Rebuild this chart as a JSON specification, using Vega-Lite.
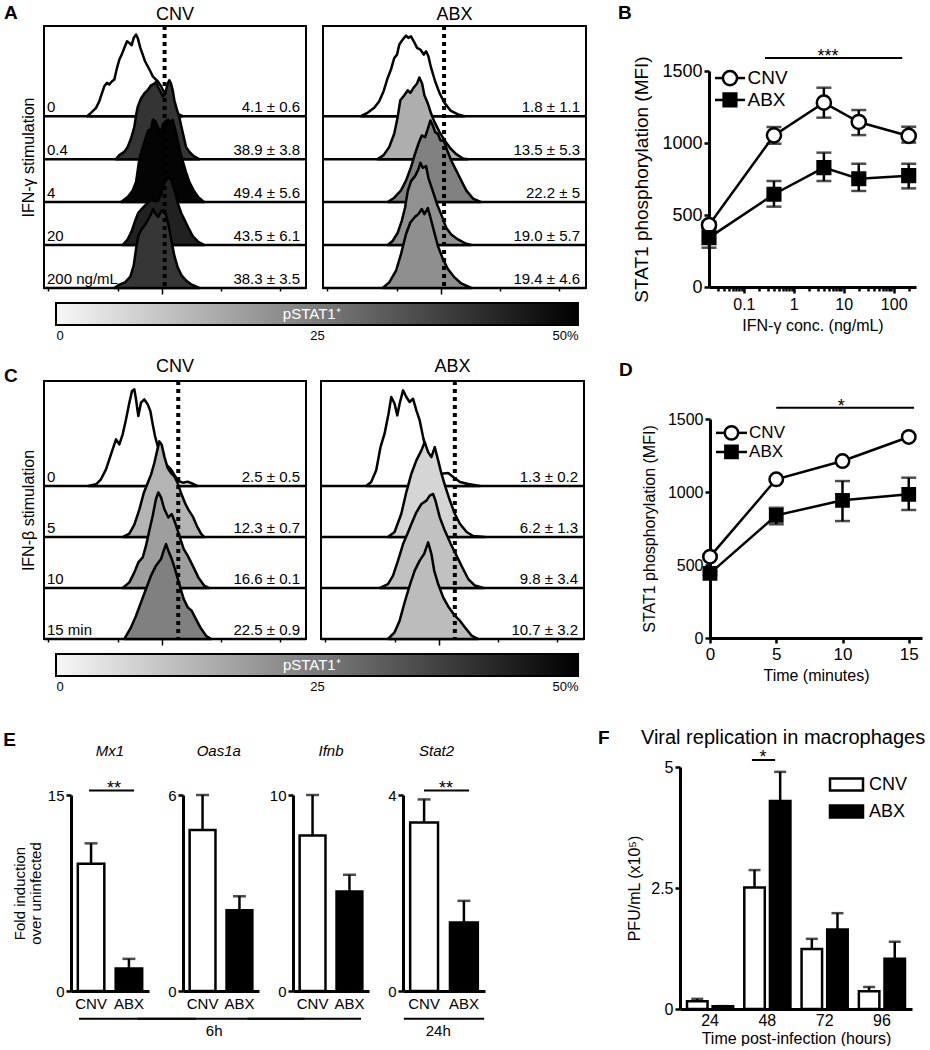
{
"$schema":"https://vega.github.io/schema/vega-lite/v6.json",
"background":"white",
"padding":{"left":3,"top":3,"right":5,"bottom":0},
"config":{
 "font":"Liberation Sans",
 "view":{"stroke":null},
 "axis":{"domainColor":"#000","domainWidth":3,"tickColor":"#000","tickWidth":2.5,"tickSize":5,"labelColor":"#000","titleColor":"#000","titleFontWeight":"normal","grid":false,"labelFlush":false,"labelOverlap":false,"labelFontSize":16,"titleFontSize":16},
 "title":{"color":"#000","fontWeight":"normal"},
 "text":{"color":"#000"},
 "legend":{"labelColor":"#000"}
},
"datasets":{
"hlab":[
{"k":"AC|0","p":"AC","r":0,"lab":"0","stat":"4.1 ± 0.6","pct":4.1},
{"k":"AC|1","p":"AC","r":1,"lab":"0.4","stat":"38.9 ± 3.8","pct":38.9},
{"k":"AC|2","p":"AC","r":2,"lab":"4","stat":"49.4 ± 5.6","pct":49.4},
{"k":"AC|3","p":"AC","r":3,"lab":"20","stat":"43.5 ± 6.1","pct":43.5},
{"k":"AC|4","p":"AC","r":4,"lab":"200 ng/mL","stat":"38.3 ± 3.5","pct":38.3},
{"k":"AA|0","p":"AA","r":0,"lab":"","stat":"1.8 ± 1.1","pct":1.8},
{"k":"AA|1","p":"AA","r":1,"lab":"","stat":"13.5 ± 5.3","pct":13.5},
{"k":"AA|2","p":"AA","r":2,"lab":"","stat":"22.2 ± 5","pct":22.2},
{"k":"AA|3","p":"AA","r":3,"lab":"","stat":"19.0 ± 5.7","pct":19.0},
{"k":"AA|4","p":"AA","r":4,"lab":"","stat":"19.4 ± 4.6","pct":19.4},
{"k":"CC|0","p":"CC","r":0,"lab":"0","stat":"2.5 ± 0.5","pct":2.5},
{"k":"CC|1","p":"CC","r":1,"lab":"5","stat":"12.3 ± 0.7","pct":12.3},
{"k":"CC|2","p":"CC","r":2,"lab":"10","stat":"16.6 ± 0.1","pct":16.6},
{"k":"CC|3","p":"CC","r":3,"lab":"15 min","stat":"22.5 ± 0.9","pct":22.5},
{"k":"CA|0","p":"CA","r":0,"lab":"","stat":"1.3 ± 0.2","pct":1.3},
{"k":"CA|1","p":"CA","r":1,"lab":"","stat":"6.2 ± 1.3","pct":6.2},
{"k":"CA|2","p":"CA","r":2,"lab":"","stat":"9.8 ± 3.4","pct":9.8},
{"k":"CA|3","p":"CA","r":3,"lab":"","stat":"10.7 ± 3.2","pct":10.7}
],
"gates":[{"p":"AC","g":3.05},{"p":"AA","g":3.05},{"p":"CC","g":3.27},{"p":"CA","g":3.255}],
"cbar":[{"lo":0,"hi":50,"name":"pSTAT1⁺"}],
"ifng":[
{"grp":"CNV","conc":0.02,"mfi":430,"lo":405,"hi":455},
{"grp":"CNV","conc":0.4,"mfi":1053,"lo":995,"hi":1111},
{"grp":"CNV","conc":4,"mfi":1280,"lo":1176,"hi":1384},
{"grp":"CNV","conc":20,"mfi":1146,"lo":1055,"hi":1229},
{"grp":"CNV","conc":200,"mfi":1049,"lo":1003,"hi":1113},
{"grp":"ABX","conc":0.02,"mfi":343,"lo":273,"hi":413},
{"grp":"ABX","conc":0.4,"mfi":644,"lo":558,"hi":736},
{"grp":"ABX","conc":4,"mfi":829,"lo":736,"hi":933},
{"grp":"ABX","conc":20,"mfi":752,"lo":667,"hi":856},
{"grp":"ABX","conc":200,"mfi":773,"lo":685,"hi":856}
],
"ifnb":[
{"grp":"CNV","min":0,"mfi":557,"lo":545,"hi":569},
{"grp":"CNV","min":5,"mfi":1087,"lo":1075,"hi":1099},
{"grp":"CNV","min":10,"mfi":1212,"lo":1200,"hi":1224},
{"grp":"CNV","min":15,"mfi":1377,"lo":1365,"hi":1389},
{"grp":"ABX","min":0,"mfi":443,"lo":430,"hi":456},
{"grp":"ABX","min":5,"mfi":840,"lo":779,"hi":892},
{"grp":"ABX","min":10,"mfi":943,"lo":801,"hi":1075},
{"grp":"ABX","min":15,"mfi":984,"lo":877,"hi":1098}
],
"genes":[
{"gene":"Mx1","grp":"CNV","val":9.73,"hi":11.3},
{"gene":"Mx1","grp":"ABX","val":1.72,"hi":2.46},
{"gene":"Oas1a","grp":"CNV","val":4.93,"hi":6.0},
{"gene":"Oas1a","grp":"ABX","val":2.47,"hi":2.9},
{"gene":"Ifnb","grp":"CNV","val":7.93,"hi":10.0},
{"gene":"Ifnb","grp":"ABX","val":5.08,"hi":5.93},
{"gene":"Stat2","grp":"CNV","val":3.44,"hi":3.91},
{"gene":"Stat2","grp":"ABX","val":1.4,"hi":1.84}
],
"viral":[
{"t":24,"grp":"CNV","val":0.16,"hi":0.21},
{"t":24,"grp":"ABX","val":0.055,"hi":0.06},
{"t":48,"grp":"CNV","val":2.51,"hi":2.87},
{"t":48,"grp":"ABX","val":4.3,"hi":4.9},
{"t":72,"grp":"CNV","val":1.24,"hi":1.45},
{"t":72,"grp":"ABX","val":1.64,"hi":1.98},
{"t":96,"grp":"CNV","val":0.365,"hi":0.455},
{"t":96,"grp":"ABX","val":1.04,"hi":1.39}
],
"hist":[
{"p":"AC","r":0,"x":1.8,"h":0},{"p":"AC","r":0,"x":1.863,"h":3.9},{"p":"AC","r":0,"x":1.944,"h":9.7},{"p":"AC","r":0,"x":1.997,"h":17.4},{"p":"AC","r":0,"x":2.024,"h":23.3},{"p":"AC","r":0,"x":2.078,"h":34.9},{"p":"AC","r":0,"x":2.121,"h":38.8},{"p":"AC","r":0,"x":2.158,"h":36.8},{"p":"AC","r":0,"x":2.202,"h":40.7},{"p":"AC","r":0,"x":2.239,"h":42.6},{"p":"AC","r":0,"x":2.282,"h":56.2},{"p":"AC","r":0,"x":2.32,"h":65.9},{"p":"AC","r":0,"x":2.358,"h":71.7},{"p":"AC","r":0,"x":2.4,"h":79.5},{"p":"AC","r":0,"x":2.444,"h":87.2},{"p":"AC","r":0,"x":2.481,"h":85.3},{"p":"AC","r":0,"x":2.519,"h":82.6},{"p":"AC","r":0,"x":2.551,"h":91.1},{"p":"AC","r":0,"x":2.589,"h":95},{"p":"AC","r":0,"x":2.616,"h":91.1},{"p":"AC","r":0,"x":2.658,"h":79.5},{"p":"AC","r":0,"x":2.697,"h":71.7},{"p":"AC","r":0,"x":2.734,"h":64},{"p":"AC","r":0,"x":2.777,"h":58.1},{"p":"AC","r":0,"x":2.82,"h":52.3},{"p":"AC","r":0,"x":2.858,"h":46.5},{"p":"AC","r":0,"x":2.895,"h":43.8},{"p":"AC","r":0,"x":2.939,"h":40.7},{"p":"AC","r":0,"x":2.992,"h":34.9},{"p":"AC","r":0,"x":3.045,"h":27.1},{"p":"AC","r":0,"x":3.1,"h":21.3},{"p":"AC","r":0,"x":3.181,"h":9.7},{"p":"AC","r":0,"x":3.261,"h":2.7},{"p":"AC","r":0,"x":3.342,"h":0},
{"p":"AC","r":1,"x":2.266,"h":0},{"p":"AC","r":1,"x":2.32,"h":4.7},{"p":"AC","r":1,"x":2.4,"h":8.5},{"p":"AC","r":1,"x":2.455,"h":14.3},{"p":"AC","r":1,"x":2.508,"h":24},{"p":"AC","r":1,"x":2.562,"h":37.6},{"p":"AC","r":1,"x":2.589,"h":51.2},{"p":"AC","r":1,"x":2.616,"h":60.8},{"p":"AC","r":1,"x":2.669,"h":70.6},{"p":"AC","r":1,"x":2.723,"h":76.4},{"p":"AC","r":1,"x":2.777,"h":80.2},{"p":"AC","r":1,"x":2.831,"h":86},{"p":"AC","r":1,"x":2.884,"h":88},{"p":"AC","r":1,"x":2.911,"h":89.9},{"p":"AC","r":1,"x":2.939,"h":84.9},{"p":"AC","r":1,"x":2.981,"h":79.4},{"p":"AC","r":1,"x":3.019,"h":73.3},{"p":"AC","r":1,"x":3.057,"h":75.6},{"p":"AC","r":1,"x":3.1,"h":88},{"p":"AC","r":1,"x":3.126,"h":91.9},{"p":"AC","r":1,"x":3.153,"h":88},{"p":"AC","r":1,"x":3.181,"h":80.2},{"p":"AC","r":1,"x":3.207,"h":68.6},{"p":"AC","r":1,"x":3.25,"h":57},{"p":"AC","r":1,"x":3.287,"h":49.2},{"p":"AC","r":1,"x":3.315,"h":39.5},{"p":"AC","r":1,"x":3.358,"h":26},{"p":"AC","r":1,"x":3.395,"h":14.3},{"p":"AC","r":1,"x":3.449,"h":8.5},{"p":"AC","r":1,"x":3.519,"h":3.5},{"p":"AC","r":1,"x":3.61,"h":0},
{"p":"AC","r":2,"x":2.347,"h":0},{"p":"AC","r":2,"x":2.455,"h":5.8},{"p":"AC","r":2,"x":2.536,"h":13.6},{"p":"AC","r":2,"x":2.589,"h":23.3},{"p":"AC","r":2,"x":2.642,"h":49.6},{"p":"AC","r":2,"x":2.697,"h":64},{"p":"AC","r":2,"x":2.75,"h":75.6},{"p":"AC","r":2,"x":2.787,"h":83.4},{"p":"AC","r":2,"x":2.831,"h":85.3},{"p":"AC","r":2,"x":2.863,"h":95.8},{"p":"AC","r":2,"x":2.9,"h":94.2},{"p":"AC","r":2,"x":2.939,"h":88},{"p":"AC","r":2,"x":2.981,"h":80.2},{"p":"AC","r":2,"x":3.024,"h":90.3},{"p":"AC","r":2,"x":3.068,"h":94.2},{"p":"AC","r":2,"x":3.11,"h":95.8},{"p":"AC","r":2,"x":3.142,"h":93},{"p":"AC","r":2,"x":3.181,"h":95.8},{"p":"AC","r":2,"x":3.218,"h":85.3},{"p":"AC","r":2,"x":3.261,"h":71.7},{"p":"AC","r":2,"x":3.303,"h":58.1},{"p":"AC","r":2,"x":3.347,"h":46.5},{"p":"AC","r":2,"x":3.395,"h":34.9},{"p":"AC","r":2,"x":3.449,"h":23.3},{"p":"AC","r":2,"x":3.519,"h":13.6},{"p":"AC","r":2,"x":3.594,"h":5.8},{"p":"AC","r":2,"x":3.69,"h":0},
{"p":"AC","r":3,"x":2.374,"h":0},{"p":"AC","r":3,"x":2.455,"h":6.6},{"p":"AC","r":3,"x":2.519,"h":16.3},{"p":"AC","r":3,"x":2.573,"h":27.9},{"p":"AC","r":3,"x":2.626,"h":37.6},{"p":"AC","r":3,"x":2.697,"h":43.4},{"p":"AC","r":3,"x":2.777,"h":49.2},{"p":"AC","r":3,"x":2.842,"h":53.1},{"p":"AC","r":3,"x":2.884,"h":51.2},{"p":"AC","r":3,"x":2.939,"h":51.2},{"p":"AC","r":3,"x":2.992,"h":59},{"p":"AC","r":3,"x":3.045,"h":72.4},{"p":"AC","r":3,"x":3.1,"h":78.3},{"p":"AC","r":3,"x":3.153,"h":76.4},{"p":"AC","r":3,"x":3.207,"h":64.8},{"p":"AC","r":3,"x":3.261,"h":49.2},{"p":"AC","r":3,"x":3.315,"h":37.6},{"p":"AC","r":3,"x":3.368,"h":29.9},{"p":"AC","r":3,"x":3.433,"h":20.1},{"p":"AC","r":3,"x":3.503,"h":10.5},{"p":"AC","r":3,"x":3.594,"h":3.8},{"p":"AC","r":3,"x":3.69,"h":0},
{"p":"AC","r":4,"x":2.239,"h":0},{"p":"AC","r":4,"x":2.32,"h":3.9},{"p":"AC","r":4,"x":2.411,"h":6.6},{"p":"AC","r":4,"x":2.497,"h":13.2},{"p":"AC","r":4,"x":2.551,"h":26},{"p":"AC","r":4,"x":2.589,"h":45.3},{"p":"AC","r":4,"x":2.626,"h":60.8},{"p":"AC","r":4,"x":2.681,"h":68.6},{"p":"AC","r":4,"x":2.734,"h":73.6},{"p":"AC","r":4,"x":2.787,"h":80.2},{"p":"AC","r":4,"x":2.831,"h":86},{"p":"AC","r":4,"x":2.863,"h":91.9},{"p":"AC","r":4,"x":2.9,"h":86.7},{"p":"AC","r":4,"x":2.948,"h":82.9},{"p":"AC","r":4,"x":2.992,"h":89.1},{"p":"AC","r":4,"x":3.035,"h":90.7},{"p":"AC","r":4,"x":3.078,"h":84.1},{"p":"AC","r":4,"x":3.121,"h":70.5},{"p":"AC","r":4,"x":3.165,"h":53},{"p":"AC","r":4,"x":3.207,"h":37.6},{"p":"AC","r":4,"x":3.261,"h":24},{"p":"AC","r":4,"x":3.326,"h":14.3},{"p":"AC","r":4,"x":3.4,"h":8.5},{"p":"AC","r":4,"x":3.487,"h":3.9},{"p":"AC","r":4,"x":3.61,"h":0},
{"p":"AA","r":0,"x":1.713,"h":0},{"p":"AA","r":0,"x":1.821,"h":3.9},{"p":"AA","r":0,"x":1.928,"h":9.7},{"p":"AA","r":0,"x":2.008,"h":17.4},{"p":"AA","r":0,"x":2.079,"h":29.1},{"p":"AA","r":0,"x":2.144,"h":44.5},{"p":"AA","r":0,"x":2.197,"h":54.3},{"p":"AA","r":0,"x":2.25,"h":67.8},{"p":"AA","r":0,"x":2.294,"h":71.7},{"p":"AA","r":0,"x":2.331,"h":83.4},{"p":"AA","r":0,"x":2.386,"h":89.2},{"p":"AA","r":0,"x":2.439,"h":93.8},{"p":"AA","r":0,"x":2.476,"h":91.1},{"p":"AA","r":0,"x":2.519,"h":93},{"p":"AA","r":0,"x":2.563,"h":87.2},{"p":"AA","r":0,"x":2.616,"h":79.5},{"p":"AA","r":0,"x":2.669,"h":77.6},{"p":"AA","r":0,"x":2.724,"h":71.7},{"p":"AA","r":0,"x":2.761,"h":75.6},{"p":"AA","r":0,"x":2.798,"h":69.8},{"p":"AA","r":0,"x":2.842,"h":56.2},{"p":"AA","r":0,"x":2.906,"h":40.7},{"p":"AA","r":0,"x":2.976,"h":27.1},{"p":"AA","r":0,"x":3.057,"h":15.5},{"p":"AA","r":0,"x":3.153,"h":6.6},{"p":"AA","r":0,"x":3.273,"h":2},{"p":"AA","r":0,"x":3.379,"h":0},
{"p":"AA","r":1,"x":1.982,"h":0},{"p":"AA","r":1,"x":2.079,"h":4.7},{"p":"AA","r":1,"x":2.17,"h":14.3},{"p":"AA","r":1,"x":2.25,"h":29.9},{"p":"AA","r":1,"x":2.305,"h":49.2},{"p":"AA","r":1,"x":2.347,"h":68.6},{"p":"AA","r":1,"x":2.411,"h":74.4},{"p":"AA","r":1,"x":2.466,"h":80.2},{"p":"AA","r":1,"x":2.508,"h":77.1},{"p":"AA","r":1,"x":2.563,"h":83.4},{"p":"AA","r":1,"x":2.616,"h":88},{"p":"AA","r":1,"x":2.653,"h":95},{"p":"AA","r":1,"x":2.697,"h":88},{"p":"AA","r":1,"x":2.734,"h":74.4},{"p":"AA","r":1,"x":2.789,"h":64.8},{"p":"AA","r":1,"x":2.842,"h":53.1},{"p":"AA","r":1,"x":2.895,"h":43.4},{"p":"AA","r":1,"x":2.976,"h":31.7},{"p":"AA","r":1,"x":3.057,"h":22.1},{"p":"AA","r":1,"x":3.153,"h":12.4},{"p":"AA","r":1,"x":3.245,"h":5.8},{"p":"AA","r":1,"x":3.353,"h":0.8},{"p":"AA","r":1,"x":3.434,"h":0},
{"p":"AA","r":2,"x":2.144,"h":0},{"p":"AA","r":2,"x":2.25,"h":5.1},{"p":"AA","r":2,"x":2.358,"h":13.6},{"p":"AA","r":2,"x":2.439,"h":25.2},{"p":"AA","r":2,"x":2.519,"h":40.7},{"p":"AA","r":2,"x":2.584,"h":56.3},{"p":"AA","r":2,"x":2.637,"h":67.9},{"p":"AA","r":2,"x":2.692,"h":77.6},{"p":"AA","r":2,"x":2.745,"h":75.6},{"p":"AA","r":2,"x":2.789,"h":85.3},{"p":"AA","r":2,"x":2.831,"h":95},{"p":"AA","r":2,"x":2.869,"h":89.2},{"p":"AA","r":2,"x":2.906,"h":81.4},{"p":"AA","r":2,"x":2.95,"h":79.5},{"p":"AA","r":2,"x":2.992,"h":71.7},{"p":"AA","r":2,"x":3.047,"h":71.7},{"p":"AA","r":2,"x":3.1,"h":60.1},{"p":"AA","r":2,"x":3.165,"h":48.5},{"p":"AA","r":2,"x":3.245,"h":36.9},{"p":"AA","r":2,"x":3.326,"h":25.2},{"p":"AA","r":2,"x":3.406,"h":13.6},{"p":"AA","r":2,"x":3.515,"h":4},{"p":"AA","r":2,"x":3.648,"h":0},
{"p":"AA","r":3,"x":2.144,"h":0},{"p":"AA","r":3,"x":2.224,"h":4.7},{"p":"AA","r":3,"x":2.305,"h":14.3},{"p":"AA","r":3,"x":2.369,"h":27.9},{"p":"AA","r":3,"x":2.423,"h":43.4},{"p":"AA","r":3,"x":2.466,"h":62.8},{"p":"AA","r":3,"x":2.519,"h":74.4},{"p":"AA","r":3,"x":2.584,"h":80.2},{"p":"AA","r":3,"x":2.637,"h":88},{"p":"AA","r":3,"x":2.669,"h":95.7},{"p":"AA","r":3,"x":2.708,"h":89.9},{"p":"AA","r":3,"x":2.761,"h":91.9},{"p":"AA","r":3,"x":2.798,"h":78.3},{"p":"AA","r":3,"x":2.869,"h":62.8},{"p":"AA","r":3,"x":2.939,"h":47.3},{"p":"AA","r":3,"x":3.015,"h":33.7},{"p":"AA","r":3,"x":3.084,"h":20.1},{"p":"AA","r":3,"x":3.165,"h":12.4},{"p":"AA","r":3,"x":3.273,"h":6.6},{"p":"AA","r":3,"x":3.406,"h":1.5},{"p":"AA","r":3,"x":3.487,"h":0},
{"p":"AA","r":4,"x":2.063,"h":0},{"p":"AA","r":4,"x":2.17,"h":6.5},{"p":"AA","r":4,"x":2.278,"h":20.1},{"p":"AA","r":4,"x":2.358,"h":39.5},{"p":"AA","r":4,"x":2.439,"h":62.8},{"p":"AA","r":4,"x":2.508,"h":76.3},{"p":"AA","r":4,"x":2.584,"h":82.9},{"p":"AA","r":4,"x":2.637,"h":86},{"p":"AA","r":4,"x":2.692,"h":91.9},{"p":"AA","r":4,"x":2.734,"h":86},{"p":"AA","r":4,"x":2.789,"h":93},{"p":"AA","r":4,"x":2.831,"h":82.1},{"p":"AA","r":4,"x":2.886,"h":66.6},{"p":"AA","r":4,"x":2.95,"h":49.2},{"p":"AA","r":4,"x":3.031,"h":33.7},{"p":"AA","r":4,"x":3.111,"h":22.1},{"p":"AA","r":4,"x":3.218,"h":12.3},{"p":"AA","r":4,"x":3.326,"h":5.3},{"p":"AA","r":4,"x":3.487,"h":0},
{"p":"CC","r":0,"x":1.82,"h":0},{"p":"CC","r":0,"x":1.944,"h":1.7},{"p":"CC","r":0,"x":2.024,"h":6.6},{"p":"CC","r":0,"x":2.105,"h":16.3},{"p":"CC","r":0,"x":2.185,"h":31},{"p":"CC","r":0,"x":2.266,"h":45.8},{"p":"CC","r":0,"x":2.32,"h":40.8},{"p":"CC","r":0,"x":2.374,"h":50.7},{"p":"CC","r":0,"x":2.427,"h":65.3},{"p":"CC","r":0,"x":2.481,"h":81.7},{"p":"CC","r":0,"x":2.524,"h":93.1},{"p":"CC","r":0,"x":2.562,"h":94.8},{"p":"CC","r":0,"x":2.589,"h":85},{"p":"CC","r":0,"x":2.626,"h":68.6},{"p":"CC","r":0,"x":2.669,"h":81.7},{"p":"CC","r":0,"x":2.723,"h":85},{"p":"CC","r":0,"x":2.777,"h":80.1},{"p":"CC","r":0,"x":2.82,"h":73.5},{"p":"CC","r":0,"x":2.858,"h":60.5},{"p":"CC","r":0,"x":2.895,"h":49},{"p":"CC","r":0,"x":2.939,"h":39.2},{"p":"CC","r":0,"x":2.992,"h":29.4},{"p":"CC","r":0,"x":3.073,"h":21.3},{"p":"CC","r":0,"x":3.153,"h":16.3},{"p":"CC","r":0,"x":3.218,"h":9.8},{"p":"CC","r":0,"x":3.271,"h":4.9},{"p":"CC","r":0,"x":3.342,"h":3.3},{"p":"CC","r":0,"x":3.423,"h":4.2},{"p":"CC","r":0,"x":3.503,"h":2.3},{"p":"CC","r":0,"x":3.584,"h":0},
{"p":"CC","r":1,"x":2.374,"h":0},{"p":"CC","r":1,"x":2.481,"h":3.3},{"p":"CC","r":1,"x":2.562,"h":12.2},{"p":"CC","r":1,"x":2.642,"h":26.9},{"p":"CC","r":1,"x":2.713,"h":43.1},{"p":"CC","r":1,"x":2.777,"h":52.9},{"p":"CC","r":1,"x":2.831,"h":61.2},{"p":"CC","r":1,"x":2.884,"h":72.5},{"p":"CC","r":1,"x":2.927,"h":84},{"p":"CC","r":1,"x":2.965,"h":93.8},{"p":"CC","r":1,"x":3.003,"h":90.6},{"p":"CC","r":1,"x":3.045,"h":79.1},{"p":"CC","r":1,"x":3.1,"h":67.6},{"p":"CC","r":1,"x":3.153,"h":62.7},{"p":"CC","r":1,"x":3.207,"h":59.5},{"p":"CC","r":1,"x":3.261,"h":52.9},{"p":"CC","r":1,"x":3.315,"h":43.1},{"p":"CC","r":1,"x":3.379,"h":33.3},{"p":"CC","r":1,"x":3.433,"h":26.9},{"p":"CC","r":1,"x":3.503,"h":20.3},{"p":"CC","r":1,"x":3.573,"h":10.5},{"p":"CC","r":1,"x":3.637,"h":3.3},{"p":"CC","r":1,"x":3.69,"h":0},
{"p":"CC","r":2,"x":2.374,"h":0},{"p":"CC","r":2,"x":2.481,"h":5.5},{"p":"CC","r":2,"x":2.562,"h":15.3},{"p":"CC","r":2,"x":2.626,"h":25.1},{"p":"CC","r":2,"x":2.697,"h":30},{"p":"CC","r":2,"x":2.75,"h":41.5},{"p":"CC","r":2,"x":2.803,"h":56.2},{"p":"CC","r":2,"x":2.858,"h":70.9},{"p":"CC","r":2,"x":2.911,"h":87.3},{"p":"CC","r":2,"x":2.948,"h":93.7},{"p":"CC","r":2,"x":2.992,"h":88.8},{"p":"CC","r":2,"x":3.045,"h":77.5},{"p":"CC","r":2,"x":3.11,"h":69.2},{"p":"CC","r":2,"x":3.165,"h":72.5},{"p":"CC","r":2,"x":3.218,"h":64.3},{"p":"CC","r":2,"x":3.287,"h":51.3},{"p":"CC","r":2,"x":3.358,"h":38.2},{"p":"CC","r":2,"x":3.423,"h":31.7},{"p":"CC","r":2,"x":3.503,"h":21.9},{"p":"CC","r":2,"x":3.594,"h":10.4},{"p":"CC","r":2,"x":3.69,"h":2.3},{"p":"CC","r":2,"x":3.771,"h":0},
{"p":"CC","r":3,"x":2.4,"h":0},{"p":"CC","r":3,"x":2.508,"h":11.4},{"p":"CC","r":3,"x":2.589,"h":22.8},{"p":"CC","r":3,"x":2.669,"h":35.9},{"p":"CC","r":3,"x":2.75,"h":49},{"p":"CC","r":3,"x":2.831,"h":62.1},{"p":"CC","r":3,"x":2.911,"h":71.9},{"p":"CC","r":3,"x":2.992,"h":78.4},{"p":"CC","r":3,"x":3.035,"h":86.6},{"p":"CC","r":3,"x":3.073,"h":93.1},{"p":"CC","r":3,"x":3.11,"h":86.6},{"p":"CC","r":3,"x":3.165,"h":78.4},{"p":"CC","r":3,"x":3.218,"h":68.6},{"p":"CC","r":3,"x":3.287,"h":53.9},{"p":"CC","r":3,"x":3.358,"h":39.2},{"p":"CC","r":3,"x":3.423,"h":31},{"p":"CC","r":3,"x":3.487,"h":27.7},{"p":"CC","r":3,"x":3.541,"h":21.2},{"p":"CC","r":3,"x":3.626,"h":11.4},{"p":"CC","r":3,"x":3.718,"h":3.2},{"p":"CC","r":3,"x":3.798,"h":0},
{"p":"CA","r":0,"x":1.831,"h":0},{"p":"CA","r":0,"x":1.911,"h":3.9},{"p":"CA","r":0,"x":1.992,"h":15.4},{"p":"CA","r":0,"x":2.061,"h":38.2},{"p":"CA","r":0,"x":2.126,"h":51.3},{"p":"CA","r":0,"x":2.19,"h":70.9},{"p":"CA","r":0,"x":2.234,"h":87.3},{"p":"CA","r":0,"x":2.287,"h":80.7},{"p":"CA","r":0,"x":2.331,"h":69.3},{"p":"CA","r":0,"x":2.368,"h":80.7},{"p":"CA","r":0,"x":2.423,"h":93.8},{"p":"CA","r":0,"x":2.476,"h":87.3},{"p":"CA","r":0,"x":2.529,"h":82.4},{"p":"CA","r":0,"x":2.584,"h":85.6},{"p":"CA","r":0,"x":2.637,"h":74.2},{"p":"CA","r":0,"x":2.69,"h":64.4},{"p":"CA","r":0,"x":2.745,"h":48},{"p":"CA","r":0,"x":2.798,"h":35},{"p":"CA","r":0,"x":2.868,"h":25.2},{"p":"CA","r":0,"x":2.944,"h":17},{"p":"CA","r":0,"x":3.04,"h":12.1},{"p":"CA","r":0,"x":3.148,"h":12.7},{"p":"CA","r":0,"x":3.229,"h":8.8},{"p":"CA","r":0,"x":3.336,"h":3.9},{"p":"CA","r":0,"x":3.471,"h":2},{"p":"CA","r":0,"x":3.658,"h":0},
{"p":"CA","r":1,"x":2.181,"h":0},{"p":"CA","r":1,"x":2.287,"h":4.9},{"p":"CA","r":1,"x":2.395,"h":22.8},{"p":"CA","r":1,"x":2.476,"h":44.1},{"p":"CA","r":1,"x":2.557,"h":62.1},{"p":"CA","r":1,"x":2.637,"h":75.2},{"p":"CA","r":1,"x":2.718,"h":85},{"p":"CA","r":1,"x":2.771,"h":93.1},{"p":"CA","r":1,"x":2.826,"h":83.3},{"p":"CA","r":1,"x":2.879,"h":78.4},{"p":"CA","r":1,"x":2.932,"h":88.2},{"p":"CA","r":1,"x":2.987,"h":75.2},{"p":"CA","r":1,"x":3.04,"h":62.1},{"p":"CA","r":1,"x":3.105,"h":49},{"p":"CA","r":1,"x":3.174,"h":36},{"p":"CA","r":1,"x":3.255,"h":22.8},{"p":"CA","r":1,"x":3.336,"h":13},{"p":"CA","r":1,"x":3.444,"h":4.9},{"p":"CA","r":1,"x":3.551,"h":1},{"p":"CA","r":1,"x":3.739,"h":0},
{"p":"CA","r":2,"x":2.045,"h":0},{"p":"CA","r":2,"x":2.181,"h":3.9},{"p":"CA","r":2,"x":2.262,"h":12.2},{"p":"CA","r":2,"x":2.342,"h":26.9},{"p":"CA","r":2,"x":2.423,"h":43.1},{"p":"CA","r":2,"x":2.492,"h":52.9},{"p":"CA","r":2,"x":2.557,"h":62.7},{"p":"CA","r":2,"x":2.637,"h":74.2},{"p":"CA","r":2,"x":2.718,"h":82.4},{"p":"CA","r":2,"x":2.798,"h":85.7},{"p":"CA","r":2,"x":2.852,"h":90.6},{"p":"CA","r":2,"x":2.906,"h":92.2},{"p":"CA","r":2,"x":2.944,"h":85.7},{"p":"CA","r":2,"x":3.013,"h":69.3},{"p":"CA","r":2,"x":3.094,"h":56.3},{"p":"CA","r":2,"x":3.19,"h":43.1},{"p":"CA","r":2,"x":3.282,"h":31.8},{"p":"CA","r":2,"x":3.374,"h":20.3},{"p":"CA","r":2,"x":3.471,"h":8.8},{"p":"CA","r":2,"x":3.578,"h":2.4},{"p":"CA","r":2,"x":3.713,"h":0},
{"p":"CA","r":3,"x":2.181,"h":0},{"p":"CA","r":3,"x":2.287,"h":6.6},{"p":"CA","r":3,"x":2.368,"h":18},{"p":"CA","r":3,"x":2.449,"h":36},{"p":"CA","r":3,"x":2.529,"h":52.4},{"p":"CA","r":3,"x":2.61,"h":67.1},{"p":"CA","r":3,"x":2.69,"h":76.9},{"p":"CA","r":3,"x":2.761,"h":83.3},{"p":"CA","r":3,"x":2.826,"h":94.8},{"p":"CA","r":3,"x":2.879,"h":83.3},{"p":"CA","r":3,"x":2.923,"h":67.1},{"p":"CA","r":3,"x":2.987,"h":53.9},{"p":"CA","r":3,"x":3.068,"h":40.9},{"p":"CA","r":3,"x":3.158,"h":31.1},{"p":"CA","r":3,"x":3.255,"h":22.9},{"p":"CA","r":3,"x":3.336,"h":18},{"p":"CA","r":3,"x":3.416,"h":11.5},{"p":"CA","r":3,"x":3.524,"h":3.3},{"p":"CA","r":3,"x":3.632,"h":0}
]
},
"spacing":35,
"resolve":{"scale":{"fill":"independent","shape":"independent","size":"independent"},"legend":{"fill":"independent"}},
"vconcat":[
{"vconcat":[
{"hconcat":[
 {"vconcat":[
  {"hconcat":[
   {"width":262,"height":262,"view":{"stroke":"#000","strokeWidth":2},
    "layer":[
     {"data":{"name":"hlab"},"transform":[{"filter":"datum.p == 'AC'"},{"calculate":"(4 - datum.r) * 50","as":"b"}],"mark":{"type":"rule","color":"#000","strokeWidth":2.5},"encoding":{"x":{"datum":1.105,"type":"quantitative","scale":{"domain":[1.105,5.33],"nice":false,"zero":false}},"x2":{"datum":5.33},"y":{"field":"b","type":"quantitative","scale":{"domain":[0,305],"nice":false},"axis":{"title":"IFN-γ stimulation","labels":false,"ticks":false,"domain":false,"titleFontSize":16,"titlePadding":8}}}},
     {"data":{"name":"hist"},
      "transform":[{"filter":"datum.p == 'AC'"},{"calculate":"datum.p + '|' + datum.r","as":"k"},{"lookup":"k","from":{"data":{"name":"hlab"},"key":"k","fields":["pct"]}},{"calculate":"(4 - datum.r) * 50","as":"b"},{"calculate":"datum.b + datum.h","as":"t"}],
      "encoding":{"x":{"field":"x","type":"quantitative","scale":{"domain":[1.105,5.33],"nice":false,"zero":false},"axis":{"values":[1.165,1.27,1.405,1.54,1.68,1.8,1.9,2,2.301,2.477,2.602,2.699,2.778,2.845,2.903,2.954,3,3.301,3.477,3.602,3.699,3.778,3.845,3.903,3.954,4,4.301,4.477,4.602,4.699,4.778,4.845,4.903,4.954,5,5.301],"labels":false,"domain":false,"title":null,"tickWidth":1.5,"tickSize":{"condition":{"test":"datum.value == 1.54 || datum.value == 2 || datum.value == 3 || datum.value == 4 || datum.value == 5","value":6},"value":3}}}},
      "layer":[
       {"transform":[{"filter":"datum.r == 0"}],"mark":{"type":"area","fill":"#fff","stroke":"#000","strokeWidth":2.5,"strokeJoin":"round"},"encoding":{"y":{"field":"t","type":"quantitative","scale":{"domain":[0,305],"nice":false}},"y2":{"field":"b"}}},
       {"transform":[{"filter":"datum.r == 1"}],"mark":{"type":"area","stroke":"#000","strokeWidth":2.5,"strokeJoin":"round"},"encoding":{"y":{"field":"t","type":"quantitative","scale":{"domain":[0,305],"nice":false}},"y2":{"field":"b"},"fill":{"field":"pct","type":"quantitative","scale":{"domain":[0,50],"range":["#f7f7f7","#000000"]},"legend":null}}},
       {"transform":[{"filter":"datum.r == 2"}],"mark":{"type":"area","stroke":"#000","strokeWidth":2.5,"strokeJoin":"round"},"encoding":{"y":{"field":"t","type":"quantitative","scale":{"domain":[0,305],"nice":false}},"y2":{"field":"b"},"fill":{"field":"pct","type":"quantitative","scale":{"domain":[0,50],"range":["#f7f7f7","#000000"]},"legend":null}}},
       {"transform":[{"filter":"datum.r == 3"}],"mark":{"type":"area","stroke":"#000","strokeWidth":2.5,"strokeJoin":"round"},"encoding":{"y":{"field":"t","type":"quantitative","scale":{"domain":[0,305],"nice":false}},"y2":{"field":"b"},"fill":{"field":"pct","type":"quantitative","scale":{"domain":[0,50],"range":["#f7f7f7","#000000"]},"legend":null}}},
       {"transform":[{"filter":"datum.r == 4"}],"mark":{"type":"area","stroke":"#000","strokeWidth":2.5,"strokeJoin":"round"},"encoding":{"y":{"field":"t","type":"quantitative","scale":{"domain":[0,305],"nice":false}},"y2":{"field":"b"},"fill":{"field":"pct","type":"quantitative","scale":{"domain":[0,50],"range":["#f7f7f7","#000000"]},"legend":null}}}
      ]},
     {"data":{"name":"gates"},"transform":[{"filter":"datum.p == 'AC'"}],"mark":{"type":"rule","color":"#000","strokeWidth":4,"strokeDash":[4,4]},"encoding":{"x":{"field":"g","type":"quantitative"}}},
     {"data":{"name":"hlab"},"transform":[{"filter":"datum.p == 'AC'"},{"calculate":"(4 - datum.r) * 50","as":"b"}],"mark":{"type":"text","align":"left","baseline":"alphabetic","dx":3,"dy":-4,"fontSize":15},"encoding":{"x":{"datum":1.105,"type":"quantitative"},"y":{"field":"b","type":"quantitative","scale":{"domain":[0,305],"nice":false}},"text":{"field":"lab"}}},
     {"data":{"name":"hlab"},"transform":[{"filter":"datum.p == 'AC'"},{"calculate":"(4 - datum.r) * 50","as":"b"}],"mark":{"type":"text","align":"right","baseline":"alphabetic","dx":-6,"dy":-4,"fontSize":15},"encoding":{"x":{"datum":5.33,"type":"quantitative"},"y":{"field":"b","type":"quantitative","scale":{"domain":[0,305],"nice":false}},"text":{"field":"stat"}}},
     {"data":{"values":[{"a":1}]},"mark":{"type":"text","text":"A","align":"left","baseline":"alphabetic","fontSize":19,"fontWeight":"bold"},"encoding":{"x":{"datum":0.46,"type":"quantitative"},"y":{"datum":313,"type":"quantitative","scale":{"domain":[0,305],"nice":false}}}},
     {"data":{"values":[{"a":1}]},"mark":{"type":"text","text":"CNV","baseline":"alphabetic","fontSize":18},"encoding":{"x":{"datum":3.2175,"type":"quantitative"},"y":{"datum":312,"type":"quantitative","scale":{"domain":[0,305],"nice":false}}}}
    ]},
   {"width":263,"height":262,"view":{"stroke":"#000","strokeWidth":2},
    "layer":[
     {"data":{"name":"hlab"},"transform":[{"filter":"datum.p == 'AA'"},{"calculate":"(4 - datum.r) * 50","as":"b"}],"mark":{"type":"rule","color":"#000","strokeWidth":2.5},"encoding":{"x":{"datum":1.105,"type":"quantitative","scale":{"domain":[1.105,5.33],"nice":false,"zero":false}},"x2":{"datum":5.33},"y":{"field":"b","type":"quantitative","scale":{"domain":[0,305],"nice":false},"axis":null}}},
     {"data":{"name":"hist"},
      "transform":[{"filter":"datum.p == 'AA'"},{"calculate":"datum.p + '|' + datum.r","as":"k"},{"lookup":"k","from":{"data":{"name":"hlab"},"key":"k","fields":["pct"]}},{"calculate":"(4 - datum.r) * 50","as":"b"},{"calculate":"datum.b + datum.h","as":"t"}],
      "encoding":{"x":{"field":"x","type":"quantitative","scale":{"domain":[1.105,5.33],"nice":false,"zero":false},"axis":{"values":[1.165,1.27,1.405,1.54,1.68,1.8,1.9,2,2.301,2.477,2.602,2.699,2.778,2.845,2.903,2.954,3,3.301,3.477,3.602,3.699,3.778,3.845,3.903,3.954,4,4.301,4.477,4.602,4.699,4.778,4.845,4.903,4.954,5,5.301],"labels":false,"domain":false,"title":null,"tickWidth":1.5,"tickSize":{"condition":{"test":"datum.value == 1.54 || datum.value == 2 || datum.value == 3 || datum.value == 4 || datum.value == 5","value":6},"value":3}}}},
      "layer":[
       {"transform":[{"filter":"datum.r == 0"}],"mark":{"type":"area","fill":"#fff","stroke":"#000","strokeWidth":2.5,"strokeJoin":"round"},"encoding":{"y":{"field":"t","type":"quantitative","scale":{"domain":[0,305],"nice":false},"axis":null},"y2":{"field":"b"}}},
       {"transform":[{"filter":"datum.r == 1"}],"mark":{"type":"area","stroke":"#000","strokeWidth":2.5,"strokeJoin":"round"},"encoding":{"y":{"field":"t","type":"quantitative","scale":{"domain":[0,305],"nice":false},"axis":null},"y2":{"field":"b"},"fill":{"field":"pct","type":"quantitative","scale":{"domain":[0,50],"range":["#f7f7f7","#000000"]},"legend":null}}},
       {"transform":[{"filter":"datum.r == 2"}],"mark":{"type":"area","stroke":"#000","strokeWidth":2.5,"strokeJoin":"round"},"encoding":{"y":{"field":"t","type":"quantitative","scale":{"domain":[0,305],"nice":false},"axis":null},"y2":{"field":"b"},"fill":{"field":"pct","type":"quantitative","scale":{"domain":[0,50],"range":["#f7f7f7","#000000"]},"legend":null}}},
       {"transform":[{"filter":"datum.r == 3"}],"mark":{"type":"area","stroke":"#000","strokeWidth":2.5,"strokeJoin":"round"},"encoding":{"y":{"field":"t","type":"quantitative","scale":{"domain":[0,305],"nice":false},"axis":null},"y2":{"field":"b"},"fill":{"field":"pct","type":"quantitative","scale":{"domain":[0,50],"range":["#f7f7f7","#000000"]},"legend":null}}},
       {"transform":[{"filter":"datum.r == 4"}],"mark":{"type":"area","stroke":"#000","strokeWidth":2.5,"strokeJoin":"round"},"encoding":{"y":{"field":"t","type":"quantitative","scale":{"domain":[0,305],"nice":false},"axis":null},"y2":{"field":"b"},"fill":{"field":"pct","type":"quantitative","scale":{"domain":[0,50],"range":["#f7f7f7","#000000"]},"legend":null}}}
      ]},
     {"data":{"name":"gates"},"transform":[{"filter":"datum.p == 'AA'"}],"mark":{"type":"rule","color":"#000","strokeWidth":4,"strokeDash":[4,4]},"encoding":{"x":{"field":"g","type":"quantitative"}}},
     {"data":{"name":"hlab"},"transform":[{"filter":"datum.p == 'AA'"},{"calculate":"(4 - datum.r) * 50","as":"b"}],"mark":{"type":"text","align":"right","baseline":"alphabetic","dx":-6,"dy":-4,"fontSize":15},"encoding":{"x":{"datum":5.33,"type":"quantitative"},"y":{"field":"b","type":"quantitative","scale":{"domain":[0,305],"nice":false},"axis":null},"text":{"field":"stat"}}},
     {"data":{"values":[{"a":1}]},"mark":{"type":"text","text":"ABX","baseline":"alphabetic","fontSize":18},"encoding":{"x":{"datum":3.2175,"type":"quantitative"},"y":{"datum":312,"type":"quantitative","scale":{"domain":[0,305],"nice":false},"axis":null}}}
    ]}
  ],"spacing":17,"bounds":"flush","resolve":{"scale":{"fill":"independent"},"legend":{"fill":"independent"}}},
  {"width":542,"height":22,"data":{"name":"cbar"},
   "layer":[
    {"mark":{"type":"rect","stroke":"#000","strokeWidth":2,"fill":{"gradient":"linear","x1":0,"y1":0,"x2":1,"y2":0,"stops":[{"offset":0,"color":"#f7f7f7"},{"offset":1,"color":"#000000"}]}},
     "encoding":{"x":{"field":"lo","type":"quantitative","scale":{"domain":[-1.15,50.77],"nice":false,"zero":false},"axis":{"values":[0,25,50],"labelExpr":"datum.value == 50 ? '50%' : datum.label","ticks":false,"domain":false,"title":null,"labelFontSize":13,"labelPadding":4,"labelAlign":{"condition":[{"test":"datum.value == 0","value":"left"},{"test":"datum.value == 50","value":"right"}],"value":"center"}}},"x2":{"field":"hi"}}},
    {"mark":{"type":"text","color":"#fff","fontSize":15,"baseline":"middle"},"encoding":{"x":{"datum":24.5,"type":"quantitative"},"text":{"field":"name"}}}
   ]}
 ],"spacing":6,"resolve":{"scale":{"fill":"independent"},"legend":{"fill":"independent"}}},
 {"vconcat":[
  {"width":1,"height":45,"data":{"values":[{"a":1}]},"mark":{"type":"point","opacity":0},"encoding":{}},
  {"width":207,"height":216,
  "layer":[
   {"data":{"name":"ifng"},"mark":{"type":"line","color":"#000","strokeWidth":2.5},"encoding":{"x":{"field":"conc","type":"quantitative","scale":{"type":"log","domain":[0.02,280],"nice":false},"axis":{"values":[0.03,0.04,0.05,0.06,0.07,0.08,0.09,0.1,0.2,0.3,0.4,0.5,0.6,0.7,0.8,0.9,1,2,3,4,5,6,7,8,9,10,20,30,40,50,60,70,80,90,100,200],"labelExpr":"datum.value == 0.1 ? '0.1' : datum.value == 1 ? '1' : datum.value == 10 ? '10' : datum.value == 100 ? '100' : ''","tickSize":{"condition":{"test":"datum.value == 0.1 || datum.value == 1 || datum.value == 10 || datum.value == 100","value":6},"value":4},"title":"IFN-γ conc. (ng/mL)","labelFontSize":16,"titleFontSize":16,"labelPadding":3,"titlePadding":5}},"y":{"field":"mfi","type":"quantitative","scale":{"domain":[0,1500],"nice":false},"axis":{"values":[0,500,1000,1500],"format":"d","title":"STAT1 phosphorylation (MFI)","labelFontSize":18,"titleFontSize":19,"labelPadding":2,"titlePadding":10}},"detail":{"field":"grp"}}},
   {"data":{"name":"ifng"},"mark":{"type":"rule","color":"#000","strokeWidth":2.5},"encoding":{"x":{"field":"conc","type":"quantitative"},"y":{"field":"lo","type":"quantitative"},"y2":{"field":"hi"}}},
   {"data":{"name":"ifng"},"mark":{"type":"tick","orient":"horizontal","size":15,"thickness":2.5,"color":"#000"},"encoding":{"x":{"field":"conc","type":"quantitative"},"y":{"field":"hi","type":"quantitative"}}},
   {"data":{"name":"ifng"},"mark":{"type":"tick","orient":"horizontal","size":15,"thickness":2.5,"color":"#000"},"encoding":{"x":{"field":"conc","type":"quantitative"},"y":{"field":"lo","type":"quantitative"}}},
   {"data":{"name":"ifng"},"mark":{"type":"point","stroke":"#000","strokeWidth":2.5,"opacity":1,"fillOpacity":1},"encoding":{"x":{"field":"conc","type":"quantitative"},"y":{"field":"mfi","type":"quantitative"},"shape":{"field":"grp","type":"nominal","scale":{"domain":["CNV","ABX"],"range":["circle","square"]},"legend":null},"fill":{"field":"grp","type":"nominal","scale":{"domain":["CNV","ABX"],"range":["#ffffff","#000000"]},"legend":null},"size":{"field":"grp","type":"ordinal","scale":{"domain":["CNV","ABX"],"range":[200,160]},"legend":null}}},
   {"data":{"values":[{"a":1}]},"layer":[
    {"mark":{"type":"rule","color":"#000","strokeWidth":2},"encoding":{"x":{"datum":0.265,"type":"quantitative"},"x2":{"datum":148},"y":{"datum":1590,"type":"quantitative"}}},
    {"mark":{"type":"text","text":"***","fontSize":18,"baseline":"alphabetic","dy":4},"encoding":{"x":{"datum":4.83,"type":"quantitative"},"y":{"datum":1590,"type":"quantitative"}}},
    {"mark":{"type":"rule","color":"#000","strokeWidth":2.5},"encoding":{"x":{"datum":0.0264,"type":"quantitative"},"x2":{"datum":0.1054},"y":{"datum":1451,"type":"quantitative"}}},
    {"mark":{"type":"point","shape":"circle","size":200,"fill":"#fff","stroke":"#000","strokeWidth":2.5,"opacity":1,"fillOpacity":1},"encoding":{"x":{"datum":0.0526,"type":"quantitative"},"y":{"datum":1451,"type":"quantitative"}}},
    {"mark":{"type":"text","text":"CNV","fontSize":19,"align":"left","baseline":"middle"},"encoding":{"x":{"datum":0.118,"type":"quantitative"},"y":{"datum":1451,"type":"quantitative"}}},
    {"mark":{"type":"rule","color":"#000","strokeWidth":2.5},"encoding":{"x":{"datum":0.0264,"type":"quantitative"},"x2":{"datum":0.1054},"y":{"datum":1299,"type":"quantitative"}}},
    {"mark":{"type":"point","shape":"square","size":160,"fill":"#000","stroke":"#000","strokeWidth":2.5,"opacity":1,"fillOpacity":1},"encoding":{"x":{"datum":0.0526,"type":"quantitative"},"y":{"datum":1299,"type":"quantitative"}}},
    {"mark":{"type":"text","text":"ABX","fontSize":19,"align":"left","baseline":"middle"},"encoding":{"x":{"datum":0.118,"type":"quantitative"},"y":{"datum":1299,"type":"quantitative"}}},
    {"mark":{"type":"text","text":"B","fontSize":19,"fontWeight":"bold","align":"left","baseline":"alphabetic"},"encoding":{"x":{"datum":0.000301,"type":"quantitative"},"y":{"datum":1861,"type":"quantitative"}}}
   ]}
  ]}
 ],"bounds":"flush","spacing":0,"resolve":{"scale":{"fill":"independent","shape":"independent","size":"independent"},"legend":{"fill":"independent"}}}
],"spacing":29,"resolve":{"scale":{"fill":"independent","shape":"independent","size":"independent"},"legend":{"fill":"independent"}}},
{"hconcat":[
 {"vconcat":[
  {"hconcat":[
   {"width":262,"height":258,"view":{"stroke":"#000","strokeWidth":2},
    "layer":[
     {"data":{"name":"hlab"},"transform":[{"filter":"datum.p == 'CC'"},{"calculate":"(3 - datum.r) * 50","as":"b"}],"mark":{"type":"rule","color":"#000","strokeWidth":2.5},"encoding":{"x":{"datum":1.105,"type":"quantitative","scale":{"domain":[1.105,5.33],"nice":false,"zero":false}},"x2":{"datum":5.33},"y":{"field":"b","type":"quantitative","scale":{"domain":[0,253],"nice":false},"axis":{"title":"IFN-β stimulation","labels":false,"ticks":false,"domain":false,"titleFontSize":16,"titlePadding":8}}}},
     {"data":{"name":"hist"},
      "transform":[{"filter":"datum.p == 'CC'"},{"calculate":"datum.p + '|' + datum.r","as":"k"},{"lookup":"k","from":{"data":{"name":"hlab"},"key":"k","fields":["pct"]}},{"calculate":"(3 - datum.r) * 50","as":"b"},{"calculate":"datum.b + datum.h","as":"t"}],
      "encoding":{"x":{"field":"x","type":"quantitative","scale":{"domain":[1.105,5.33],"nice":false,"zero":false},"axis":{"values":[1.165,1.27,1.405,1.54,1.68,1.8,1.9,2,2.301,2.477,2.602,2.699,2.778,2.845,2.903,2.954,3,3.301,3.477,3.602,3.699,3.778,3.845,3.903,3.954,4,4.301,4.477,4.602,4.699,4.778,4.845,4.903,4.954,5,5.301],"labels":false,"domain":false,"title":null,"tickWidth":1.5,"tickSize":{"condition":{"test":"datum.value == 1.54 || datum.value == 2 || datum.value == 3 || datum.value == 4 || datum.value == 5","value":6},"value":3}}}},
      "layer":[
       {"transform":[{"filter":"datum.r == 0"}],"mark":{"type":"area","fill":"#fff","stroke":"#000","strokeWidth":2.5,"strokeJoin":"round"},"encoding":{"y":{"field":"t","type":"quantitative","scale":{"domain":[0,253],"nice":false}},"y2":{"field":"b"}}},
       {"transform":[{"filter":"datum.r == 1"}],"mark":{"type":"area","stroke":"#000","strokeWidth":2.5,"strokeJoin":"round"},"encoding":{"y":{"field":"t","type":"quantitative","scale":{"domain":[0,253],"nice":false}},"y2":{"field":"b"},"fill":{"field":"pct","type":"quantitative","scale":{"domain":[0,50],"range":["#f7f7f7","#000000"]},"legend":null}}},
       {"transform":[{"filter":"datum.r == 2"}],"mark":{"type":"area","stroke":"#000","strokeWidth":2.5,"strokeJoin":"round"},"encoding":{"y":{"field":"t","type":"quantitative","scale":{"domain":[0,253],"nice":false}},"y2":{"field":"b"},"fill":{"field":"pct","type":"quantitative","scale":{"domain":[0,50],"range":["#f7f7f7","#000000"]},"legend":null}}},
       {"transform":[{"filter":"datum.r == 3"}],"mark":{"type":"area","stroke":"#000","strokeWidth":2.5,"strokeJoin":"round"},"encoding":{"y":{"field":"t","type":"quantitative","scale":{"domain":[0,253],"nice":false}},"y2":{"field":"b"},"fill":{"field":"pct","type":"quantitative","scale":{"domain":[0,50],"range":["#f7f7f7","#000000"]},"legend":null}}}
      ]},
     {"data":{"name":"gates"},"transform":[{"filter":"datum.p == 'CC'"}],"mark":{"type":"rule","color":"#000","strokeWidth":4,"strokeDash":[4,4]},"encoding":{"x":{"field":"g","type":"quantitative"}}},
     {"data":{"name":"hlab"},"transform":[{"filter":"datum.p == 'CC'"},{"calculate":"(3 - datum.r) * 50","as":"b"}],"mark":{"type":"text","align":"left","baseline":"alphabetic","dx":3,"dy":-4,"fontSize":15},"encoding":{"x":{"datum":1.105,"type":"quantitative"},"y":{"field":"b","type":"quantitative","scale":{"domain":[0,253],"nice":false}},"text":{"field":"lab"}}},
     {"data":{"name":"hlab"},"transform":[{"filter":"datum.p == 'CC'"},{"calculate":"(3 - datum.r) * 50","as":"b"}],"mark":{"type":"text","align":"right","baseline":"alphabetic","dx":-6,"dy":-4,"fontSize":15},"encoding":{"x":{"datum":5.33,"type":"quantitative"},"y":{"field":"b","type":"quantitative","scale":{"domain":[0,253],"nice":false}},"text":{"field":"stat"}}},
     {"data":{"values":[{"a":1}]},"mark":{"type":"text","text":"C","align":"left","baseline":"alphabetic","fontSize":19,"fontWeight":"bold"},"encoding":{"x":{"datum":0.46,"type":"quantitative"},"y":{"datum":252,"type":"quantitative","scale":{"domain":[0,253],"nice":false}}}},
     {"data":{"values":[{"a":1}]},"mark":{"type":"text","text":"CNV","baseline":"alphabetic","fontSize":18},"encoding":{"x":{"datum":3.2175,"type":"quantitative"},"y":{"datum":262,"type":"quantitative","scale":{"domain":[0,253],"nice":false}}}}
    ]},
   {"width":263,"height":258,"view":{"stroke":"#000","strokeWidth":2},
    "layer":[
     {"data":{"name":"hlab"},"transform":[{"filter":"datum.p == 'CA'"},{"calculate":"(3 - datum.r) * 50","as":"b"}],"mark":{"type":"rule","color":"#000","strokeWidth":2.5},"encoding":{"x":{"datum":1.105,"type":"quantitative","scale":{"domain":[1.105,5.33],"nice":false,"zero":false}},"x2":{"datum":5.33},"y":{"field":"b","type":"quantitative","scale":{"domain":[0,253],"nice":false},"axis":null}}},
     {"data":{"name":"hist"},
      "transform":[{"filter":"datum.p == 'CA'"},{"calculate":"datum.p + '|' + datum.r","as":"k"},{"lookup":"k","from":{"data":{"name":"hlab"},"key":"k","fields":["pct"]}},{"calculate":"(3 - datum.r) * 50","as":"b"},{"calculate":"datum.b + datum.h","as":"t"}],
      "encoding":{"x":{"field":"x","type":"quantitative","scale":{"domain":[1.105,5.33],"nice":false,"zero":false},"axis":{"values":[1.165,1.27,1.405,1.54,1.68,1.8,1.9,2,2.301,2.477,2.602,2.699,2.778,2.845,2.903,2.954,3,3.301,3.477,3.602,3.699,3.778,3.845,3.903,3.954,4,4.301,4.477,4.602,4.699,4.778,4.845,4.903,4.954,5,5.301],"labels":false,"domain":false,"title":null,"tickWidth":1.5,"tickSize":{"condition":{"test":"datum.value == 1.54 || datum.value == 2 || datum.value == 3 || datum.value == 4 || datum.value == 5","value":6},"value":3}}}},
      "layer":[
       {"transform":[{"filter":"datum.r == 0"}],"mark":{"type":"area","fill":"#fff","stroke":"#000","strokeWidth":2.5,"strokeJoin":"round"},"encoding":{"y":{"field":"t","type":"quantitative","scale":{"domain":[0,253],"nice":false},"axis":null},"y2":{"field":"b"}}},
       {"transform":[{"filter":"datum.r == 1"}],"mark":{"type":"area","stroke":"#000","strokeWidth":2.5,"strokeJoin":"round"},"encoding":{"y":{"field":"t","type":"quantitative","scale":{"domain":[0,253],"nice":false},"axis":null},"y2":{"field":"b"},"fill":{"field":"pct","type":"quantitative","scale":{"domain":[0,50],"range":["#f7f7f7","#000000"]},"legend":null}}},
       {"transform":[{"filter":"datum.r == 2"}],"mark":{"type":"area","stroke":"#000","strokeWidth":2.5,"strokeJoin":"round"},"encoding":{"y":{"field":"t","type":"quantitative","scale":{"domain":[0,253],"nice":false},"axis":null},"y2":{"field":"b"},"fill":{"field":"pct","type":"quantitative","scale":{"domain":[0,50],"range":["#f7f7f7","#000000"]},"legend":null}}},
       {"transform":[{"filter":"datum.r == 3"}],"mark":{"type":"area","stroke":"#000","strokeWidth":2.5,"strokeJoin":"round"},"encoding":{"y":{"field":"t","type":"quantitative","scale":{"domain":[0,253],"nice":false},"axis":null},"y2":{"field":"b"},"fill":{"field":"pct","type":"quantitative","scale":{"domain":[0,50],"range":["#f7f7f7","#000000"]},"legend":null}}}
      ]},
     {"data":{"name":"gates"},"transform":[{"filter":"datum.p == 'CA'"}],"mark":{"type":"rule","color":"#000","strokeWidth":4,"strokeDash":[4,4]},"encoding":{"x":{"field":"g","type":"quantitative"}}},
     {"data":{"name":"hlab"},"transform":[{"filter":"datum.p == 'CA'"},{"calculate":"(3 - datum.r) * 50","as":"b"}],"mark":{"type":"text","align":"right","baseline":"alphabetic","dx":-6,"dy":-4,"fontSize":15},"encoding":{"x":{"datum":5.33,"type":"quantitative"},"y":{"field":"b","type":"quantitative","scale":{"domain":[0,253],"nice":false},"axis":null},"text":{"field":"stat"}}},
     {"data":{"values":[{"a":1}]},"mark":{"type":"text","text":"ABX","baseline":"alphabetic","fontSize":18},"encoding":{"x":{"datum":3.2175,"type":"quantitative"},"y":{"datum":262,"type":"quantitative","scale":{"domain":[0,253],"nice":false},"axis":null}}}
    ]}
  ],"spacing":15,"bounds":"flush","resolve":{"scale":{"fill":"independent"},"legend":{"fill":"independent"}}},
  {"width":540,"height":22,"data":{"name":"cbar"},
   "layer":[
    {"mark":{"type":"rect","stroke":"#000","strokeWidth":2,"fill":{"gradient":"linear","x1":0,"y1":0,"x2":1,"y2":0,"stops":[{"offset":0,"color":"#f7f7f7"},{"offset":1,"color":"#000000"}]}},
     "encoding":{"x":{"field":"lo","type":"quantitative","scale":{"domain":[-1.15,50.57],"nice":false,"zero":false},"axis":{"values":[0,25,50],"labelExpr":"datum.value == 50 ? '50%' : datum.label","ticks":false,"domain":false,"title":null,"labelFontSize":13,"labelPadding":4,"labelAlign":{"condition":[{"test":"datum.value == 0","value":"left"},{"test":"datum.value == 50","value":"right"}],"value":"center"}}},"x2":{"field":"hi"}}},
    {"mark":{"type":"text","color":"#fff","fontSize":15,"baseline":"middle"},"encoding":{"x":{"datum":24.5,"type":"quantitative"},"text":{"field":"name"}}}
   ]}
 ],"spacing":6,"resolve":{"scale":{"fill":"independent"},"legend":{"fill":"independent"}}},
 {"vconcat":[
  {"width":1,"height":38,"data":{"values":[{"a":1}]},"mark":{"type":"point","opacity":0},"encoding":{}},
  {"width":212,"height":219,
  "layer":[
   {"data":{"name":"ifnb"},"mark":{"type":"line","color":"#000","strokeWidth":2.5},"encoding":{"x":{"field":"min","type":"quantitative","scale":{"domain":[0,16],"nice":false},"axis":{"values":[0,5,10,15],"title":"Time (minutes)","labelFontSize":17,"titleFontSize":16,"labelPadding":3,"titlePadding":5}},"y":{"field":"mfi","type":"quantitative","scale":{"domain":[0,1500],"nice":false},"axis":{"values":[0,500,1000,1500],"format":"d","title":"STAT1 phosphorylation (MFI)","labelFontSize":16,"titleFontSize":16,"labelPadding":2,"titlePadding":10}},"detail":{"field":"grp"}}},
   {"data":{"name":"ifnb"},"mark":{"type":"rule","color":"#000","strokeWidth":2.5},"encoding":{"x":{"field":"min","type":"quantitative"},"y":{"field":"lo","type":"quantitative"},"y2":{"field":"hi"}}},
   {"data":{"name":"ifnb"},"mark":{"type":"tick","orient":"horizontal","size":15,"thickness":2.5,"color":"#000"},"encoding":{"x":{"field":"min","type":"quantitative"},"y":{"field":"hi","type":"quantitative"}}},
   {"data":{"name":"ifnb"},"mark":{"type":"tick","orient":"horizontal","size":15,"thickness":2.5,"color":"#000"},"encoding":{"x":{"field":"min","type":"quantitative"},"y":{"field":"lo","type":"quantitative"}}},
   {"data":{"name":"ifnb"},"mark":{"type":"point","stroke":"#000","strokeWidth":2.5,"opacity":1,"fillOpacity":1},"encoding":{"x":{"field":"min","type":"quantitative"},"y":{"field":"mfi","type":"quantitative"},"shape":{"field":"grp","type":"nominal","scale":{"domain":["CNV","ABX"],"range":["circle","square"]},"legend":null},"fill":{"field":"grp","type":"nominal","scale":{"domain":["CNV","ABX"],"range":["#ffffff","#000000"]},"legend":null},"size":{"field":"grp","type":"ordinal","scale":{"domain":["CNV","ABX"],"range":[180,150]},"legend":null}}},
   {"data":{"values":[{"a":1}]},"layer":[
    {"mark":{"type":"rule","color":"#000","strokeWidth":2},"encoding":{"x":{"datum":5,"type":"quantitative"},"x2":{"datum":15.4},"y":{"datum":1577,"type":"quantitative"}}},
    {"mark":{"type":"text","text":"*","fontSize":18,"baseline":"alphabetic","dy":4},"encoding":{"x":{"datum":9.9,"type":"quantitative"},"y":{"datum":1577,"type":"quantitative"}}},
    {"mark":{"type":"rule","color":"#000","strokeWidth":2.5},"encoding":{"x":{"datum":0.45,"type":"quantitative"},"x2":{"datum":2.79},"y":{"datum":1405,"type":"quantitative"}}},
    {"mark":{"type":"point","shape":"circle","size":180,"fill":"#fff","stroke":"#000","strokeWidth":2.5,"opacity":1,"fillOpacity":1},"encoding":{"x":{"datum":1.62,"type":"quantitative"},"y":{"datum":1405,"type":"quantitative"}}},
    {"mark":{"type":"text","text":"CNV","fontSize":17,"align":"left","baseline":"middle"},"encoding":{"x":{"datum":2.95,"type":"quantitative"},"y":{"datum":1405,"type":"quantitative"}}},
    {"mark":{"type":"rule","color":"#000","strokeWidth":2.5},"encoding":{"x":{"datum":0.45,"type":"quantitative"},"x2":{"datum":2.79},"y":{"datum":1274,"type":"quantitative"}}},
    {"mark":{"type":"point","shape":"square","size":150,"fill":"#000","stroke":"#000","strokeWidth":2.5,"opacity":1,"fillOpacity":1},"encoding":{"x":{"datum":1.62,"type":"quantitative"},"y":{"datum":1274,"type":"quantitative"}}},
    {"mark":{"type":"text","text":"ABX","fontSize":17,"align":"left","baseline":"middle"},"encoding":{"x":{"datum":2.95,"type":"quantitative"},"y":{"datum":1274,"type":"quantitative"}}},
    {"mark":{"type":"text","text":"D","fontSize":19,"fontWeight":"bold","align":"left","baseline":"alphabetic"},"encoding":{"x":{"datum":-6.87,"type":"quantitative"},"y":{"datum":1795,"type":"quantitative"}}}
   ]}
  ]}
 ],"bounds":"flush","spacing":0,"resolve":{"scale":{"fill":"independent","shape":"independent","size":"independent"},"legend":{"fill":"independent"}}}
],"spacing":31,"resolve":{"scale":{"fill":"independent","shape":"independent","size":"independent"},"legend":{"fill":"independent"}}}
],"spacing":14,"resolve":{"scale":{"fill":"independent","shape":"independent","size":"independent"},"legend":{"fill":"independent"}}},
{"hconcat":[
 {"vconcat":[
  {"width":1,"height":28,"data":{"values":[{"a":1}]},"mark":{"type":"point","opacity":0},"encoding":{}},
  {"hconcat":[
   {"width":27,"height":1,"data":{"values":[{"a":1}]},"mark":{"type":"point","opacity":0},"encoding":{}},
   {"hconcat":[
  {"width":78,"height":196,
   "layer":[
    {"data":{"name":"genes"},"transform":[{"filter":"datum.gene == 'Mx1'"}],
     "encoding":{"x":{"field":"grp","type":"nominal","sort":["CNV","ABX"],"scale":{"paddingInner":0.3,"paddingOuter":0.18},"axis":{"title":null,"labelAngle":0,"ticks":false,"labelFontSize":15,"labelPadding":5}}},
     "layer":[
      {"mark":{"type":"bar","stroke":"#000","strokeWidth":2.5},"encoding":{"y":{"field":"val","type":"quantitative","scale":{"domain":[0,15],"nice":false},"axis":{"values":[0,15],"title":["Fold induction","over uninfected"],"labelFontSize":15,"titleFontSize":15,"titlePadding":4,"titleLineHeight":16}},"fill":{"field":"grp","type":"nominal","scale":{"domain":["CNV","ABX"],"range":["#ffffff","#000000"]},"legend":null}}},
      {"mark":{"type":"rule","color":"#000","strokeWidth":2.5},"encoding":{"y":{"field":"val","type":"quantitative"},"y2":{"field":"hi"}}},
      {"mark":{"type":"tick","orient":"horizontal","size":13,"thickness":2.5,"color":"#000"},"encoding":{"y":{"field":"hi","type":"quantitative"}}}
     ]},
    {"data":{"values":[{"a":1}]},"layer":[
     {"mark":{"type":"rule","color":"#000","strokeWidth":2},"encoding":{"x":{"datum":0.231,"type":"quantitative","scale":{"domain":[0,1],"nice":false},"axis":null},"x2":{"datum":0.808},"y":{"datum":1.023,"type":"quantitative","scale":{"domain":[0,1],"nice":false},"axis":null}}},
     {"mark":{"type":"text","text":"**","fontSize":18,"baseline":"alphabetic","dy":4},"encoding":{"x":{"datum":0.551,"type":"quantitative","scale":{"domain":[0,1],"nice":false},"axis":null},"y":{"datum":1.023,"type":"quantitative","scale":{"domain":[0,1],"nice":false},"axis":null}}},
     {"mark":{"type":"rule","color":"#000","strokeWidth":2},"encoding":{"x":{"datum":0.103,"type":"quantitative","scale":{"domain":[0,1],"nice":false},"axis":null},"x2":{"datum":1.6},"y":{"datum":-0.141,"type":"quantitative","scale":{"domain":[0,1],"nice":false},"axis":null}}},
     {"mark":{"type":"text","text":"Mx1","fontSize":15,"fontStyle":"italic","baseline":"alphabetic"},"encoding":{"x":{"datum":0.5,"type":"quantitative","scale":{"domain":[0,1],"nice":false},"axis":null},"y":{"datum":1.201,"type":"quantitative","scale":{"domain":[0,1],"nice":false},"axis":null}}},
     {"mark":{"type":"text","text":"E","fontSize":19,"fontWeight":"bold","align":"left","baseline":"alphabetic"},"encoding":{"x":{"datum":-0.87,"type":"quantitative","scale":{"domain":[0,1],"nice":false},"axis":null},"y":{"datum":1.252,"type":"quantitative","scale":{"domain":[0,1],"nice":false},"axis":null}}}
    ]}
   ],
   "resolve":{"scale":{"x":"independent","y":"independent"},"axis":{"x":"independent","y":"independent"}}},
  {"width":76,"height":196,
   "layer":[
    {"data":{"name":"genes"},"transform":[{"filter":"datum.gene == 'Oas1a'"}],
     "encoding":{"x":{"field":"grp","type":"nominal","sort":["CNV","ABX"],"scale":{"paddingInner":0.3,"paddingOuter":0.18},"axis":{"title":null,"labelAngle":0,"ticks":false,"labelFontSize":15,"labelPadding":5}}},
     "layer":[
      {"mark":{"type":"bar","stroke":"#000","strokeWidth":2.5},"encoding":{"y":{"field":"val","type":"quantitative","scale":{"domain":[0,6],"nice":false},"axis":{"values":[0,6],"title":null,"labelFontSize":15}},"fill":{"field":"grp","type":"nominal","scale":{"domain":["CNV","ABX"],"range":["#ffffff","#000000"]},"legend":null}}},
      {"mark":{"type":"rule","color":"#000","strokeWidth":2.5},"encoding":{"y":{"field":"val","type":"quantitative"},"y2":{"field":"hi"}}},
      {"mark":{"type":"tick","orient":"horizontal","size":13,"thickness":2.5,"color":"#000"},"encoding":{"y":{"field":"hi","type":"quantitative"}}}
     ]},
    {"data":{"values":[{"a":1}]},"layer":[
     {"mark":{"type":"rule","color":"#000","strokeWidth":2},"encoding":{"x":{"datum":-0.6,"type":"quantitative","scale":{"domain":[0,1],"nice":false},"axis":null},"x2":{"datum":1.6},"y":{"datum":-0.141,"type":"quantitative","scale":{"domain":[0,1],"nice":false},"axis":null}}},
     {"mark":{"type":"text","text":"6h","fontSize":15,"baseline":"top","dy":5},"encoding":{"x":{"datum":0.41,"type":"quantitative","scale":{"domain":[0,1],"nice":false},"axis":null},"y":{"datum":-0.141,"type":"quantitative","scale":{"domain":[0,1],"nice":false},"axis":null}}},
     {"mark":{"type":"text","text":"Oas1a","fontSize":15,"fontStyle":"italic","baseline":"alphabetic"},"encoding":{"x":{"datum":0.47,"type":"quantitative","scale":{"domain":[0,1],"nice":false},"axis":null},"y":{"datum":1.201,"type":"quantitative","scale":{"domain":[0,1],"nice":false},"axis":null}}}
    ]}
   ],
   "resolve":{"scale":{"x":"independent","y":"independent"},"axis":{"x":"independent","y":"independent"}}},
  {"width":76,"height":196,
   "layer":[
    {"data":{"name":"genes"},"transform":[{"filter":"datum.gene == 'Ifnb'"}],
     "encoding":{"x":{"field":"grp","type":"nominal","sort":["CNV","ABX"],"scale":{"paddingInner":0.3,"paddingOuter":0.18},"axis":{"title":null,"labelAngle":0,"ticks":false,"labelFontSize":15,"labelPadding":5}}},
     "layer":[
      {"mark":{"type":"bar","stroke":"#000","strokeWidth":2.5},"encoding":{"y":{"field":"val","type":"quantitative","scale":{"domain":[0,10],"nice":false},"axis":{"values":[0,10],"title":null,"labelFontSize":15}},"fill":{"field":"grp","type":"nominal","scale":{"domain":["CNV","ABX"],"range":["#ffffff","#000000"]},"legend":null}}},
      {"mark":{"type":"rule","color":"#000","strokeWidth":2.5},"encoding":{"y":{"field":"val","type":"quantitative"},"y2":{"field":"hi"}}},
      {"mark":{"type":"tick","orient":"horizontal","size":13,"thickness":2.5,"color":"#000"},"encoding":{"y":{"field":"hi","type":"quantitative"}}}
     ]},
    {"data":{"values":[{"a":1}]},"layer":[
     {"mark":{"type":"rule","color":"#000","strokeWidth":2},"encoding":{"x":{"datum":-0.6,"type":"quantitative","scale":{"domain":[0,1],"nice":false},"axis":null},"x2":{"datum":0.895},"y":{"datum":-0.141,"type":"quantitative","scale":{"domain":[0,1],"nice":false},"axis":null}}},
     {"mark":{"type":"text","text":"Ifnb","fontSize":15,"fontStyle":"italic","baseline":"alphabetic"},"encoding":{"x":{"datum":0.5,"type":"quantitative","scale":{"domain":[0,1],"nice":false},"axis":null},"y":{"datum":1.201,"type":"quantitative","scale":{"domain":[0,1],"nice":false},"axis":null}}}
    ]}
   ],
   "resolve":{"scale":{"x":"independent","y":"independent"},"axis":{"x":"independent","y":"independent"}}},
  {"width":82,"height":196,
   "layer":[
    {"data":{"name":"genes"},"transform":[{"filter":"datum.gene == 'Stat2'"}],
     "encoding":{"x":{"field":"grp","type":"nominal","sort":["CNV","ABX"],"scale":{"paddingInner":0.3,"paddingOuter":0.18},"axis":{"title":null,"labelAngle":0,"ticks":false,"labelFontSize":15,"labelPadding":5}}},
     "layer":[
      {"mark":{"type":"bar","stroke":"#000","strokeWidth":2.5},"encoding":{"y":{"field":"val","type":"quantitative","scale":{"domain":[0,4],"nice":false},"axis":{"values":[0,4],"title":null,"labelFontSize":15}},"fill":{"field":"grp","type":"nominal","scale":{"domain":["CNV","ABX"],"range":["#ffffff","#000000"]},"legend":null}}},
      {"mark":{"type":"rule","color":"#000","strokeWidth":2.5},"encoding":{"y":{"field":"val","type":"quantitative"},"y2":{"field":"hi"}}},
      {"mark":{"type":"tick","orient":"horizontal","size":13,"thickness":2.5,"color":"#000"},"encoding":{"y":{"field":"hi","type":"quantitative"}}}
     ]},
    {"data":{"values":[{"a":1}]},"layer":[
     {"mark":{"type":"rule","color":"#000","strokeWidth":2},"encoding":{"x":{"datum":0.256,"type":"quantitative","scale":{"domain":[0,1],"nice":false},"axis":null},"x2":{"datum":0.805},"y":{"datum":1.023,"type":"quantitative","scale":{"domain":[0,1],"nice":false},"axis":null}}},
     {"mark":{"type":"text","text":"**","fontSize":18,"baseline":"alphabetic","dy":4},"encoding":{"x":{"datum":0.524,"type":"quantitative","scale":{"domain":[0,1],"nice":false},"axis":null},"y":{"datum":1.023,"type":"quantitative","scale":{"domain":[0,1],"nice":false},"axis":null}}},
     {"mark":{"type":"rule","color":"#000","strokeWidth":2},"encoding":{"x":{"datum":0.01,"type":"quantitative","scale":{"domain":[0,1],"nice":false},"axis":null},"x2":{"datum":0.99},"y":{"datum":-0.141,"type":"quantitative","scale":{"domain":[0,1],"nice":false},"axis":null}}},
     {"mark":{"type":"text","text":"24h","fontSize":15,"baseline":"top","dy":5},"encoding":{"x":{"datum":0.43,"type":"quantitative","scale":{"domain":[0,1],"nice":false},"axis":null},"y":{"datum":-0.141,"type":"quantitative","scale":{"domain":[0,1],"nice":false},"axis":null}}},
     {"mark":{"type":"text","text":"Stat2","fontSize":15,"fontStyle":"italic","baseline":"alphabetic"},"encoding":{"x":{"datum":0.41,"type":"quantitative","scale":{"domain":[0,1],"nice":false},"axis":null},"y":{"datum":1.201,"type":"quantitative","scale":{"domain":[0,1],"nice":false},"axis":null}}}
    ]}
   ],
   "resolve":{"scale":{"x":"independent","y":"independent"},"axis":{"x":"independent","y":"independent"}}}
   ],"spacing":34,"bounds":"flush","resolve":{"scale":{"fill":"independent"},"legend":{"fill":"independent"}}}
  ],"spacing":0,"bounds":"flush","resolve":{"scale":{"fill":"independent"},"legend":{"fill":"independent"}}}
 ],"spacing":0,"bounds":"flush","resolve":{"scale":{"fill":"independent"},"legend":{"fill":"independent"}}},
 {"width":232,"height":242,
  "layer":[
   {"data":{"name":"viral"},
    "encoding":{"x":{"field":"t","type":"ordinal","scale":{"paddingInner":0.15,"paddingOuter":0.1},"axis":{"title":"Time post-infection (hours)","labelAngle":0,"ticks":false,"labelPadding":3,"titlePadding":2,"labelFontSize":16,"titleFontSize":16}},
                "xOffset":{"field":"grp","type":"nominal","sort":["CNV","ABX"],"scale":{"domain":["CNV","ABX"],"paddingInner":0.2,"paddingOuter":0.05}}},
    "layer":[
     {"mark":{"type":"bar","stroke":"#000","strokeWidth":2.5},"encoding":{"y":{"field":"val","type":"quantitative","scale":{"domain":[0,5],"nice":false},"axis":{"values":[0,2.5,5],"format":".2~f","title":"PFU/mL (x10⁵)","labelFontSize":16,"titleFontSize":16,"titlePadding":8}},"fill":{"field":"grp","type":"nominal","scale":{"domain":["CNV","ABX"],"range":["#ffffff","#000000"]},"legend":{"title":null,"orient":"top-right","offset":4,"padding":0,"labelFontSize":18,"symbolType":"M-1.375,-0.5H1.375V0.5H-1.375Z","symbolSize":576,"symbolStrokeColor":"#000","symbolStrokeWidth":2.5,"labelOffset":9,"rowPadding":2}}}},
     {"mark":{"type":"rule","color":"#000","strokeWidth":2.5},"encoding":{"y":{"field":"val","type":"quantitative"},"y2":{"field":"hi"}}},
     {"mark":{"type":"tick","orient":"horizontal","size":12,"thickness":2.5,"color":"#000"},"encoding":{"y":{"field":"hi","type":"quantitative"}}}
    ]},
   {"data":{"values":[{"a":1}]},"layer":[
    {"mark":{"type":"rule","color":"#000","strokeWidth":2},"encoding":{"x":{"datum":0.31,"type":"quantitative","scale":{"domain":[0,1],"nice":false},"axis":null},"x2":{"datum":0.41},"y":{"datum":1.029,"type":"quantitative","scale":{"domain":[0,1],"nice":false},"axis":null}}},
    {"mark":{"type":"text","text":"*","fontSize":18,"baseline":"alphabetic","dy":3},"encoding":{"x":{"datum":0.358,"type":"quantitative","scale":{"domain":[0,1],"nice":false},"axis":null},"y":{"datum":1.029,"type":"quantitative","scale":{"domain":[0,1],"nice":false},"axis":null}}},
    {"mark":{"type":"text","text":"Viral replication in macrophages","fontSize":20,"baseline":"alphabetic"},"encoding":{"x":{"datum":0.444,"type":"quantitative","scale":{"domain":[0,1],"nice":false},"axis":null},"y":{"datum":1.095,"type":"quantitative","scale":{"domain":[0,1],"nice":false},"axis":null}}},
    {"mark":{"type":"text","text":"F","fontSize":19,"fontWeight":"bold","align":"left","baseline":"alphabetic"},"encoding":{"x":{"datum":-0.353,"type":"quantitative","scale":{"domain":[0,1],"nice":false},"axis":null},"y":{"datum":1.095,"type":"quantitative","scale":{"domain":[0,1],"nice":false},"axis":null}}}
   ]}
  ],
  "resolve":{"scale":{"x":"independent","y":"independent"},"axis":{"x":"independent","y":"independent"}}}
],"spacing":112,"resolve":{"scale":{"fill":"independent"},"legend":{"fill":"independent"}}}
]
}
